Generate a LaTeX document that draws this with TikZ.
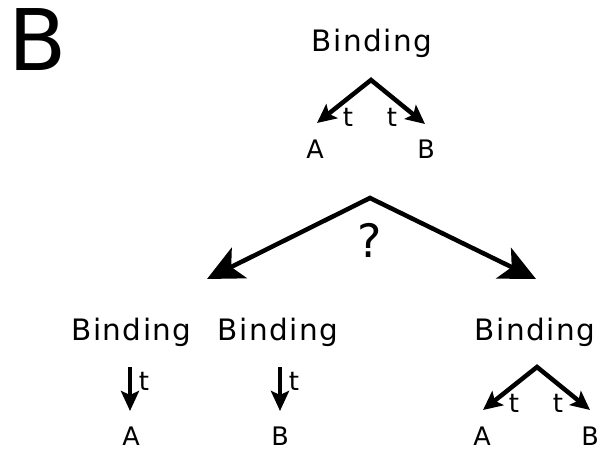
\documentclass[tikz,border=0pt]{standalone}
\usepackage{fontspec}
\setmainfont{DejaVu Sans}
\usetikzlibrary{arrows.meta}
\begin{document}
\begin{tikzpicture}[x=1pt,y=-1pt,
  word/.style={inner sep=0pt,anchor=base,
    font=\fontsize{29.5}{32}\selectfont\addfontfeature{LetterSpace=5}},
  leaf/.style={inner sep=0pt,anchor=base,font=\fontsize{25.5}{27}\selectfont},
  tlabel/.style={inner sep=0pt,anchor=base,font=\fontsize{26}{28}\selectfont},
  smallarrow/.style={line width=4.5pt,line join=miter,
    arrows={-Stealth[length=20pt,width=18pt,inset=4pt]}},
  smallpair/.style={line width=4.5pt,line join=miter,
    arrows={Stealth[length=19pt,width=18pt,inset=4pt]-Stealth[length=19pt,width=18pt,inset=4pt]}},
  bigpair/.style={line width=4.5pt,line join=miter,
    arrows={Stealth[length=36pt,width=34pt,inset=9pt]-Stealth[length=36pt,width=34pt,inset=9pt]}}]
\useasboundingbox (0,0) rectangle (600,449);

% panel letter
\node[inner sep=0pt,anchor=base,font=\fontsize{85}{90}\selectfont] (panel) at (38,71) {B};

% joint binding at the top
\node[word] (bind) at (372,52) {Binding};
\coordinate (apex1) at (371,80);
\coordinate (tip1l) at (317,123);
\coordinate (tip1r) at (425,124);
\draw[smallpair] (tip1l) -- (apex1) -- (tip1r);
\node[tlabel] (t1l) at (348,127) {t};
\node[tlabel] (t1r) at (392,127) {t};
\node[leaf] (a1) at (315,159) {A};
\node[leaf] (b1) at (426,159) {B};

% the question
\coordinate (apex2) at (370,198);
\coordinate (tip2l) at (207,279);
\coordinate (tip2r) at (536,279);
\draw[bigpair] (tip2l) -- (apex2) -- (tip2r);
\node[inner sep=0pt,anchor=base,font=\fontsize{46}{50}\selectfont] (q) at (370,258) {?};

% separate bindings
\node[word] (bindA) at (131.5,340) {Binding};
\node[word] (bindB) at (278,340) {Binding};
\coordinate (topA) at (130,367);
\coordinate (tipA) at (130,411);
\coordinate (topB) at (280,367);
\coordinate (tipB) at (280,411);
\draw[smallarrow] (topA) -- (tipA);
\draw[smallarrow] (topB) -- (tipB);
\node[tlabel] (tA) at (144,390) {t};
\node[tlabel] (tB) at (294,390) {t};
\node[leaf] (a2) at (131,445) {A};
\node[leaf] (b2) at (280,445) {B};

% joint binding at the bottom right
\node[word] (bindC) at (535,340) {Binding};
\coordinate (apex3) at (537,367);
\coordinate (tip3l) at (483,410);
\coordinate (tip3r) at (590,410);
\draw[smallpair] (tip3l) -- (apex3) -- (tip3r);
\node[tlabel] (t3l) at (514,412) {t};
\node[tlabel] (t3r) at (558,412) {t};
\node[leaf] (a3) at (482,445) {A};
\node[leaf] (b3) at (590,445) {B};
\end{tikzpicture}
\end{document}
